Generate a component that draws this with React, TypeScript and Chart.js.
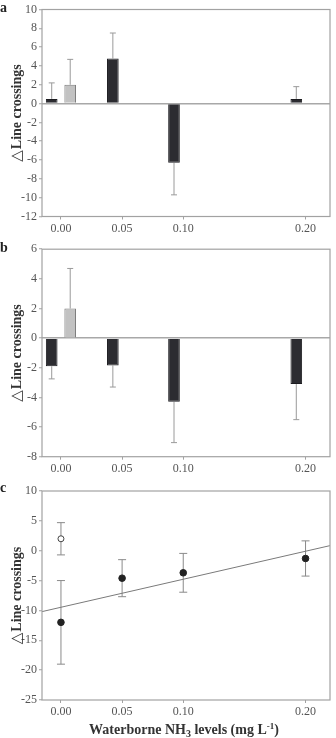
import React, { useEffect, useRef } from "react";
import { Chart, registerables } from "chart.js";

Chart.register(...registerables);

// NH3 exposure levels (mg L-1) and the x-axis ticks shown
const doses = [0, 0.05, 0.1, 0.2];
const xTicks = [0, 0.05, 0.1, 0.2];
const controlDose = [0];

// Panel a: change in line crossings (mean, one-sided SE)
const aExposed = [0.5, 4.8, -6.3, 0.5];
const aExposedErr = [1.7, 2.7, 3.4, 1.3];
const aControl = [2.0];
const aControlErr = [2.7];

// Panel b
const bExposed = [-1.9, -1.85, -4.3, -3.1];
const bExposedErr = [0.85, 1.45, 2.75, 2.4];
const bControl = [2.0];
const bControlErr = [2.7];

// Panel c: means with symmetric SE and the fitted regression line
const cMeans = [-12.0, -4.6, -3.7, -1.3];
const cErr = [7.0, 3.1, 3.25, 2.95];
const cControl = [2.0];
const cControlErr = [2.7];
const fitX = [-0.0155, 0.22];
const fitY = [-10.2, 0.85];

const X_MIN = -0.0155;
const X_MAX = 0.22;
const W = 336;
const SERIF = "'Liberation Serif', 'Times New Roman', serif";
const AXIS_GRAY = "#a2a2a2";
const TEXT_GRAY = "#555";
const Y_TITLE_MARK = "\u25B3";
const Y_TITLE_TEXT = "Line crossings";

const framePlugin = {
  id: "frame",
  afterDraw(chart: any) {
    const { ctx, chartArea: a } = chart;
    ctx.save();
    ctx.strokeStyle = AXIS_GRAY;
    ctx.lineWidth = 1.2;
    ctx.strokeRect(a.left, a.top, a.right - a.left, a.bottom - a.top);
    ctx.restore();
  },
};

const errorBarsPlugin = {
  id: "errorBars",
  beforeDatasetsDraw(chart: any) {
    const { ctx } = chart;
    const yScale = chart.scales.y;
    chart.data.datasets.forEach((ds: any, i: number) => {
      if (!ds.errors) return;
      const meta = chart.getDatasetMeta(i);
      ctx.save();
      ctx.strokeStyle = ds.errorColor || "#999";
      ctx.lineWidth = 1;
      const cap = ds.capWidth || 6;
      meta.data.forEach((el: any, j: number) => {
        const v = ds.data[j].y;
        const e = ds.errors[j];
        const x = el.x;
        if (ds.errorMode === "away") {
          const yEnd = yScale.getPixelForValue(v + (v >= 0 ? e : -e));
          ctx.beginPath();
          ctx.moveTo(x, el.y);
          ctx.lineTo(x, yEnd);
          ctx.moveTo(x - cap / 2, yEnd);
          ctx.lineTo(x + cap / 2, yEnd);
          ctx.stroke();
        } else {
          const y1 = yScale.getPixelForValue(v + e);
          const y2 = yScale.getPixelForValue(v - e);
          ctx.beginPath();
          ctx.moveTo(x, y1);
          ctx.lineTo(x, y2);
          ctx.moveTo(x - cap / 2, y1);
          ctx.lineTo(x + cap / 2, y1);
          ctx.moveTo(x - cap / 2, y2);
          ctx.lineTo(x + cap / 2, y2);
          ctx.stroke();
        }
      });
      ctx.restore();
    });
  },
};

// Panel letter and the rotated y-axis title (thin triangle, bold words)
const labelsPlugin = {
  id: "panelLabels",
  afterDraw(chart: any, _args: any, opts: any) {
    const { ctx, chartArea } = chart;
    ctx.save();
    ctx.font = `bold 14px ${SERIF}`;
    ctx.fillStyle = "#222";
    ctx.textAlign = "left";
    ctx.textBaseline = "alphabetic";
    ctx.fillText(opts.text || "", 0, 11.5);

    const markFont = `15px 'DejaVu Sans', sans-serif`;
    const wordFont = `bold 14px ${SERIF}`;
    ctx.font = markFont;
    const wMark = ctx.measureText(Y_TITLE_MARK).width;
    ctx.font = wordFont;
    const wWord = ctx.measureText(Y_TITLE_TEXT).width;
    const total = wMark + 1 + wWord;
    const cy = (chartArea.top + chartArea.bottom) / 2;
    ctx.translate(20.5, cy);
    ctx.rotate(-Math.PI / 2);
    ctx.fillStyle = "#333";
    let x = -total / 2;
    ctx.font = markFont;
    ctx.fillText(Y_TITLE_MARK, x, 0);
    x += wMark + 1;
    ctx.font = wordFont;
    ctx.fillText(Y_TITLE_TEXT, x, 0);
    ctx.restore();
  },
};

// x-axis title with the subscript in NH3 and the superscript in L-1
const xTitlePlugin = {
  id: "xTitle",
  afterDraw(chart: any, _args: any, opts: any) {
    if (!opts.show) return;
    const { ctx, chartArea } = chart;
    const segs = [
      { t: "Waterborne NH", size: 14, dy: 0 },
      { t: "3", size: 10, dy: 3 },
      { t: " levels (mg L", size: 14, dy: 0 },
      { t: "-1", size: 9, dy: -5 },
      { t: ")", size: 14, dy: 0 },
    ];
    ctx.save();
    ctx.fillStyle = "#333";
    ctx.textBaseline = "alphabetic";
    ctx.textAlign = "left";
    let total = 0;
    segs.forEach((s) => {
      ctx.font = `bold ${s.size}px ${SERIF}`;
      total += ctx.measureText(s.t).width;
    });
    let x = (chartArea.left + chartArea.right) / 2 - total / 2 - 2;
    const base = opts.baseline;
    segs.forEach((s) => {
      ctx.font = `bold ${s.size}px ${SERIF}`;
      ctx.fillText(s.t, x, base + s.dy);
      x += ctx.measureText(s.t).width;
    });
    ctx.restore();
  },
};

function xScale(canvasH: number, plotBottom: number) {
  return {
    type: "linear",
    min: X_MIN,
    max: X_MAX,
    offset: false,
    afterBuildTicks: (s: any) => {
      s.ticks = xTicks.map((v) => ({ value: v }));
    },
    afterFit: (s: any) => {
      s.height = canvasH - plotBottom;
    },
    ticks: {
      callback: (v: any) => Number(v).toFixed(2),
      font: { family: SERIF, size: 12 },
      color: TEXT_GRAY,
      padding: 2,
      autoSkip: false,
      maxRotation: 0,
    },
    grid: { drawOnChartArea: false, offset: false, tickLength: 3, tickColor: AXIS_GRAY },
    border: { display: false },
  };
}

function yScale(min: number, max: number, step: number, zeroLine: boolean) {
  return {
    min,
    max,
    afterFit: (s: any) => {
      s.width = 42;
    },
    ticks: {
      stepSize: step,
      font: { family: SERIF, size: 12 },
      color: TEXT_GRAY,
      padding: 2,
    },
    title: { display: false },
    grid: {
      drawOnChartArea: zeroLine,
      color: (c: any) => (c.tick && c.tick.value === 0 ? "#a8a8a8" : "rgba(0,0,0,0)"),
      lineWidth: 1.5,
      tickLength: 3,
      tickColor: AXIS_GRAY,
      tickWidth: 1,
    },
    border: { display: false },
  };
}

function barPanel(
  letter: string,
  exposed: number[],
  exposedErr: number[],
  control: number[],
  controlErr: number[],
  yMin: number,
  yMax: number,
  canvasH: number,
  plotTop: number,
  plotBottom: number
) {
  const common = { categoryPercentage: 0.605, barPercentage: 0.63, borderWidth: 1, errorMode: "away", errorColor: "#9a9a9a", capWidth: 6 };
  return {
    type: "bar",
    data: {
      datasets: [
        {
          ...common,
          label: "Exposed",
          data: doses.map((d, i) => ({ x: d, y: exposed[i] })),
          backgroundColor: "#2c2c31",
          borderColor: "#1c1c20",
          errors: exposedErr,
        },
        {
          ...common,
          label: "Control",
          data: controlDose.map((d, i) => ({ x: d, y: control[i] })),
          backgroundColor: "#c2c2c2",
          borderColor: "#7c7c7c",
          errors: controlErr,
        },
      ],
    },
    options: {
      responsive: false,
      animation: false,
      layout: { padding: { left: 0, right: W - 330, top: plotTop, bottom: 0 } },
      plugins: {
        legend: { display: false },
        tooltip: { enabled: false },
        panelLabels: { text: letter },
        xTitle: { show: false },
      },
      scales: {
        x: xScale(canvasH, plotBottom),
        y: yScale(yMin, yMax, 2, true),
      },
    },
    plugins: [framePlugin, errorBarsPlugin, labelsPlugin, xTitlePlugin],
  };
}

function scatterPanel(canvasH: number, plotTop: number, plotBottom: number) {
  return {
    type: "scatter",
    data: {
      datasets: [
        {
          type: "line",
          label: "Fit",
          data: fitX.map((x, i) => ({ x, y: fitY[i] })),
          borderColor: "#7a7a7a",
          borderWidth: 1,
          pointRadius: 0,
          fill: false,
        },
        {
          label: "Exposed",
          data: doses.map((d, i) => ({ x: d, y: cMeans[i] })),
          backgroundColor: "#222",
          borderColor: "#222",
          pointRadius: 3.3,
          borderWidth: 1,
          errors: cErr,
          errorMode: "sym",
          errorColor: "#8a8a8a",
          capWidth: 8,
        },
        {
          label: "Control",
          data: controlDose.map((d, i) => ({ x: d, y: cControl[i] })),
          backgroundColor: "#fff",
          borderColor: "#444",
          pointRadius: 3,
          borderWidth: 1,
          errors: cControlErr,
          errorMode: "sym",
          errorColor: "#8a8a8a",
          capWidth: 8,
        },
      ],
    },
    options: {
      responsive: false,
      animation: false,
      layout: { padding: { left: 0, right: W - 330, top: plotTop, bottom: 0 } },
      plugins: {
        legend: { display: false },
        tooltip: { enabled: false },
        panelLabels: { text: "c" },
        xTitle: { show: true, baseline: 253.5 },
      },
      scales: {
        x: xScale(canvasH, plotBottom),
        y: yScale(-25, 10, 5, false),
      },
    },
    plugins: [framePlugin, errorBarsPlugin, labelsPlugin, xTitlePlugin],
  };
}

function Panel({ config, height }: { config: any; height: number }) {
  const ref = useRef<HTMLCanvasElement | null>(null);
  useEffect(() => {
    if (!ref.current) return;
    const chart = new Chart(ref.current, config);
    return () => chart.destroy();
  }, [config]);
  return <canvas ref={ref} width={W} height={height} style={{ display: "block", width: W, height }} />;
}

const configA = barPanel("a", aExposed, aExposedErr, aControl, aControlErr, -12, 10, 240, 9.5, 216.5);
const configB = barPanel("b", bExposed, bExposedErr, bControl, bControlErr, -8, 6, 240, 7.3, 216.7);
const configC = scatterPanel(258, 11, 220);

export default function App() {
  return (
    <div style={{ position: "absolute", left: 0, top: 0, width: W, height: 738, background: "#fff" }}>
      <Panel config={configA} height={240} />
      <Panel config={configB} height={240} />
      <Panel config={configC} height={258} />
    </div>
  );
}
